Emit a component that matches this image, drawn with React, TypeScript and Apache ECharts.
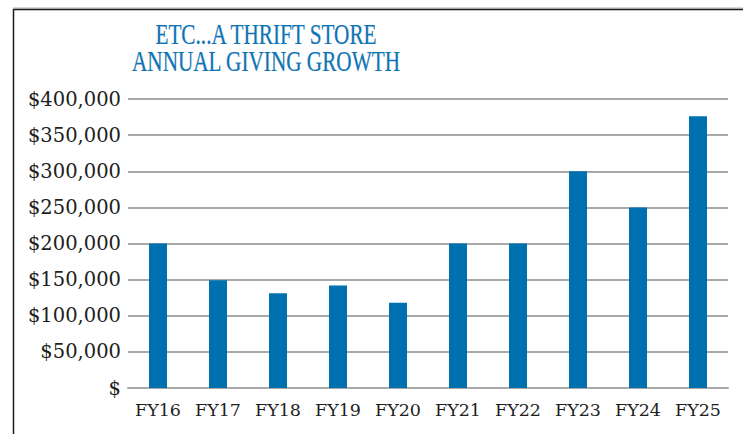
import React, { useEffect, useRef } from "react";
import * as echarts from "echarts";

const titleLines = ["ETC...A THRIFT STORE", "ANNUAL GIVING GROWTH"];
const categories = ["FY16", "FY17", "FY18", "FY19", "FY20", "FY21", "FY22", "FY23", "FY24", "FY25"];
const giving = [200000, 149000, 131000, 142000, 118000, 200000, 200000, 300000, 250000, 376000];
const yMin = 0;
const yMax = 400000;
const yStep = 50000;

export default function App() {
  const ref = useRef<HTMLDivElement>(null);
  useEffect(() => {
    if (!ref.current) return;
    const chart = echarts.init(ref.current, null, { renderer: "svg" });
    const titleColor = "#0F74B4";
    chart.setOption({
      animation: false,
      backgroundColor: "#ffffff",
      graphic: [
        {
          type: "line",
          shape: { x1: 13, y1: 8, x2: 743, y2: 8 },
          style: { stroke: "#b0b0b0", lineWidth: 1 },
        },
        {
          type: "line",
          shape: { x1: 13, y1: 9.5, x2: 743, y2: 9.5 },
          style: { stroke: "#1a1a1a", lineWidth: 1.5 },
        },
        {
          type: "line",
          shape: { x1: 13.5, y1: 9, x2: 13.5, y2: 434 },
          style: { stroke: "#1a1a1a", lineWidth: 1.5 },
        },
        ...titleLines.map((t, i) => ({
          type: "text",
          x: 266,
          y: 34 + i * 27.5,
          scaleX: 0.72,
          style: {
            text: t,
            fill: titleColor,
            stroke: titleColor,
            lineWidth: 0.25,
            fontFamily: "'Liberation Serif', serif",
            fontSize: 29.5,
            align: "center",
            verticalAlign: "middle",
          },
        })),
      ],
      grid: { left: 128, right: 15, top: 99, bottom: 46, containLabel: false },
      xAxis: {
        type: "category",
        data: categories,
        axisTick: { show: false },
        axisLine: { show: true, lineStyle: { color: "#a8a8a8", width: 2 } },
        axisLabel: {
          interval: 0,
          color: "#1e1e1e",
          fontFamily: "'DejaVu Serif', serif",
          fontSize: 17.5,
          margin: 13,
        },
      },
      yAxis: {
        type: "value",
        min: yMin,
        max: yMax,
        interval: yStep,
        axisLine: { show: false },
        axisTick: { show: false },
        splitLine: { lineStyle: { color: "#a8a8a8", width: 2 } },
        axisLabel: {
          color: "#1e1e1e",
          fontFamily: "'DejaVu Serif', serif",
          fontSize: 19.5,
          margin: 7,
          formatter: (v: number) => (v === 0 ? "$" : "$" + v.toLocaleString("en-US")),
        },
      },
      series: [
        {
          type: "bar",
          data: giving,
          barWidth: 18,
          itemStyle: { color: "#0071AF" },
        },
      ],
    });
    return () => chart.dispose();
  }, []);
  return (
    <div
      ref={ref}
      style={{ position: "fixed", left: 0, top: 0, width: 743, height: 434 }}
    />
  );
}
